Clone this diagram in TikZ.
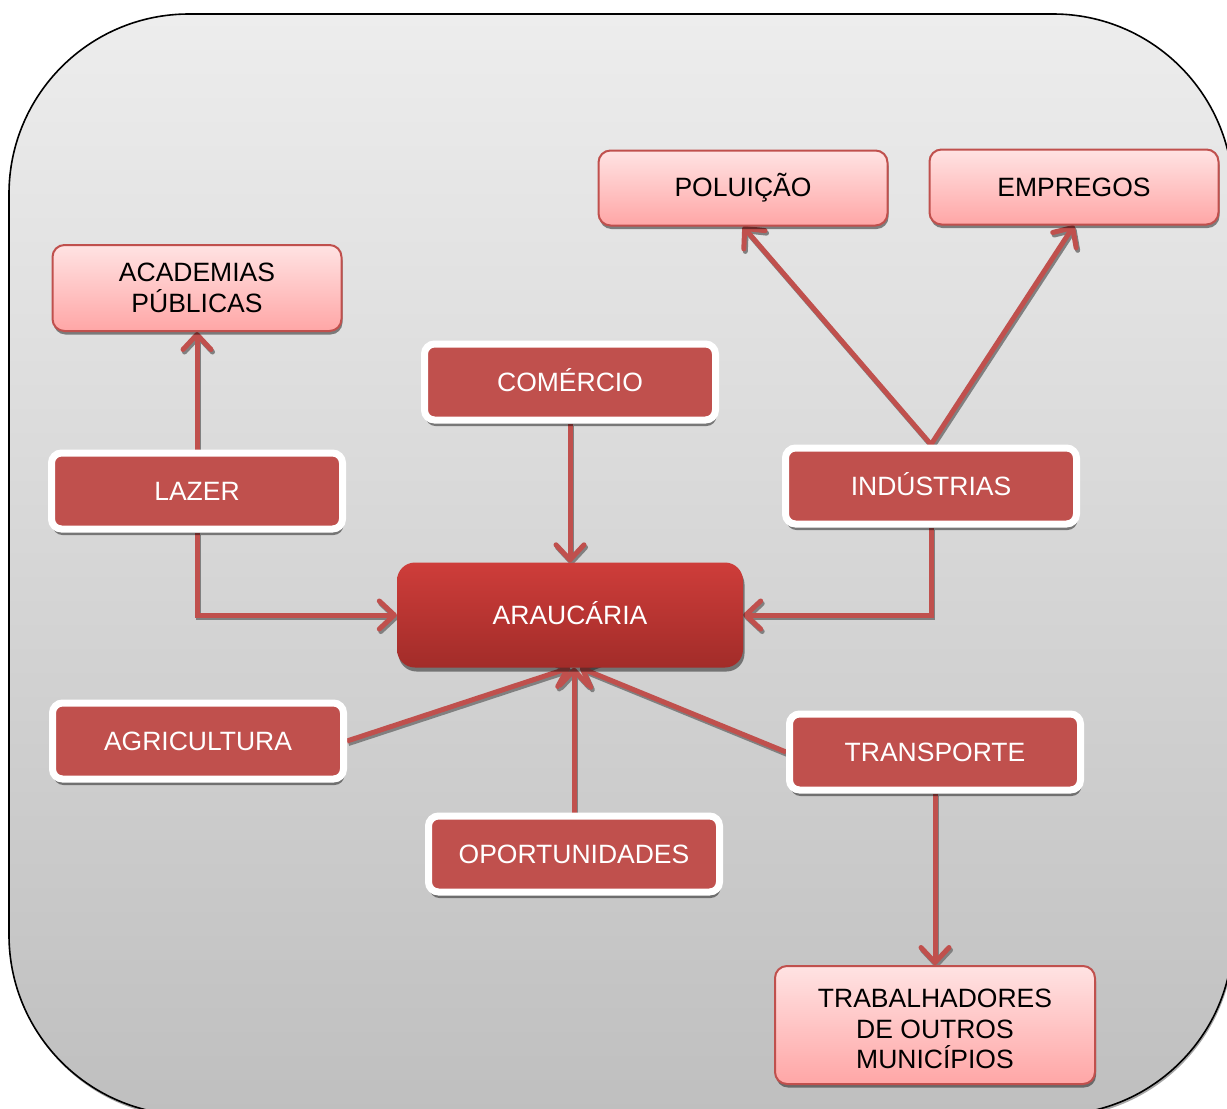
\documentclass[tikz,border=0pt]{standalone}
\usepackage{fontspec}
\setmainfont{Liberation Sans}
\usetikzlibrary{arrows.meta,shadows}

\definecolor{boxred}{HTML}{C0504D}
\definecolor{pinktop}{HTML}{FFE3E3}
\definecolor{pinkbot}{HTML}{FFA6A6}
\definecolor{hubtop}{HTML}{CE3D3A}
\definecolor{hubbot}{HTML}{A22C29}
\definecolor{bgtop}{HTML}{EDEDED}
\definecolor{bgbot}{HTML}{BFBFBF}
\definecolor{shadowgray}{HTML}{808080}

\newcommand\labelfont{\fontsize{26.5}{30.5}\selectfont}

\pgfdeclarelayer{bg}
\pgfdeclarelayer{links}
\pgfsetlayers{bg,links,main}

\begin{document}
\begin{tikzpicture}[x=1pt,y=-1pt,
  darkbox/.style={draw=white, line width=7pt, fill=boxred, rounded corners=10pt,
    minimum width=291pt, minimum height=76pt, inner sep=0pt, text=white,
    font=\labelfont, text height=19pt, text depth=0pt,
    drop shadow={shadow xshift=1pt, shadow yshift=-6pt, opacity=0.45, fill=black}},
  pinkbox/.style={draw=boxred, line width=2pt, top color=pinktop, bottom color=pinkbot,
    rounded corners=12pt, minimum width=289pt, minimum height=75pt, inner sep=0pt,
    text=black, font=\labelfont, align=center,
    drop shadow={shadow xshift=1pt, shadow yshift=-3.5pt, opacity=0.45, fill=black}},
  hubbox/.style={top color=hubtop, bottom color=hubbot, rounded corners=18pt,
    minimum width=346pt, minimum height=105pt, inner sep=0pt, text=white,
    font=\labelfont, text height=19pt, text depth=0pt,
    drop shadow={shadow xshift=1.5pt, shadow yshift=-4pt, opacity=0.45, fill=black}},
  link/.style={draw=boxred, line width=5pt,
    -{Straight Barb[length=15pt, width=28pt, round]}},
  linkshadow/.style={link, draw=shadowgray,
    transform canvas={xshift=1.5pt, yshift=-2.5pt}}
]
\useasboundingbox (0,0) rectangle (1227,1109);

% frame
\begin{pgfonlayer}{bg}
  \begin{scope}
    \clip (0,0) rectangle (1227,1109);
    \path[draw=black, line width=1.6pt, top color=bgtop, bottom color=bgbot,
      rounded corners=180pt,
      drop shadow={shadow xshift=1pt, shadow yshift=-2.5pt, opacity=0.35, fill=black}]
      (9,14) rectangle (1233,1115);
  \end{scope}
\end{pgfonlayer}

% nodes
\node[hubbox]  (arau)  at (570,615) {ARAUCÁRIA};
\node[pinkbox, minimum height=86pt] (acad) at (197,288) {ACADEMIAS\\PÚBLICAS};
\node[pinkbox] (pol)   at (743,188) {POLUIÇÃO};
\node[pinkbox] (emp)   at (1074,187) {EMPREGOS};
\node[pinkbox, minimum width=320pt, minimum height=118pt] (trab) at (935,1025)
  {\rule{0pt}{27pt}TRABALHADORES\\DE OUTROS\\MUNICÍPIOS};
\node[darkbox] (com)   at (570,382) {COMÉRCIO};
\node[darkbox] (lazer) at (197,491) {LAZER};
\node[darkbox] (ind)   at (931,486) {INDÚSTRIAS};
\node[darkbox] (agr)   at (198,741) {AGRICULTURA};
\node[darkbox] (opo)   at (574,854) {OPORTUNIDADES};
\node[darkbox] (tra)   at (935,752) {TRANSPORTE};

% connectors, each with its offset shadow
\newcommand\conn[1]{\draw[linkshadow] #1; \draw[link] #1;}
\begin{pgfonlayer}{links}
  \conn{(lazer.north) -- (acad.south)}
  \conn{(lazer.south) |- (arau.west)}
  \conn{(com.south) -- (arau.north)}
  \conn{(ind.north) -- (pol.south)}
  \conn{(ind.north) -- (emp.south)}
  \conn{(ind.south) |- (arau.east)}
  \conn{(agr.east) -- (arau.south)}
  \conn{(opo.north) -- ([xshift=4pt]arau.south)}
  \conn{(tra.west) -- ([xshift=10pt]arau.south)}
  \conn{(tra.south) -- (trab.north)}
\end{pgfonlayer}
\end{tikzpicture}
\end{document}
